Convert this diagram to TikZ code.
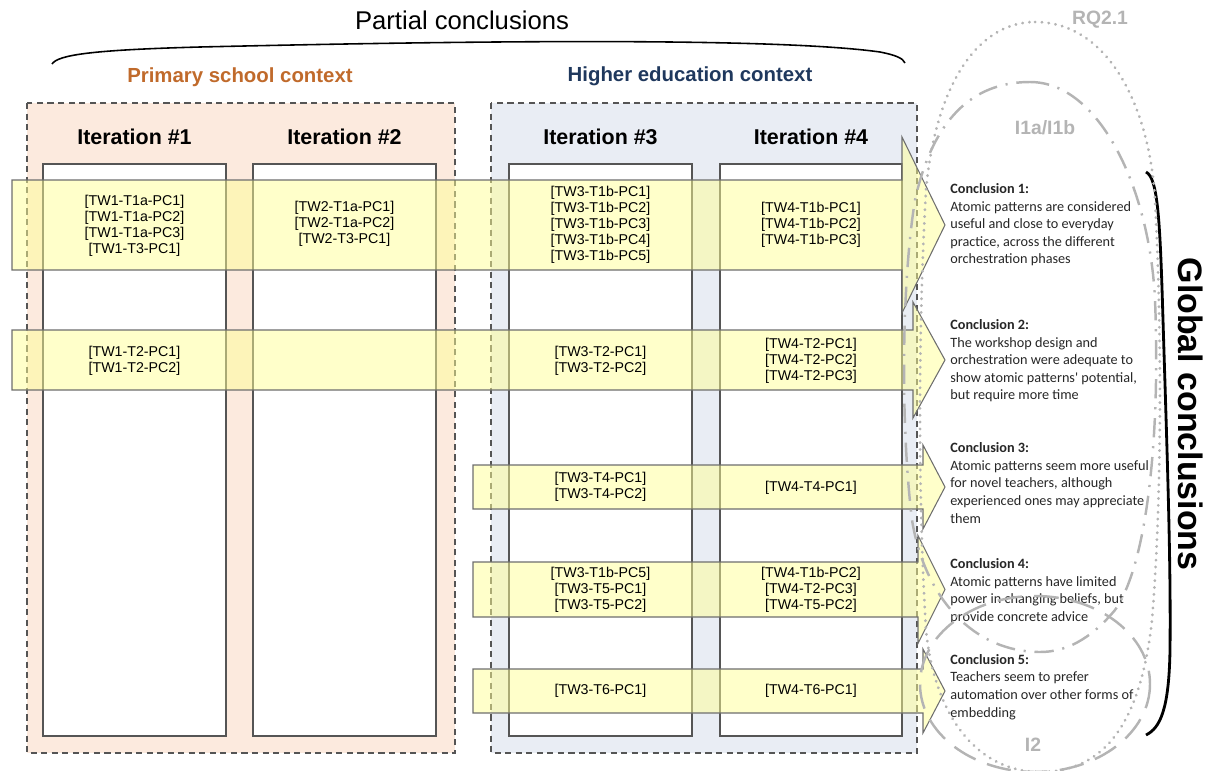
\documentclass[tikz,border=0pt]{standalone}
\usepackage{fontspec}
\setmainfont{Liberation Sans}
\newfontfamily\carlito{Carlito}
\usetikzlibrary{positioning}

\definecolor{primfill}{RGB}{252,234,222}
\definecolor{highfill}{RGB}{233,237,244}
\definecolor{primtext}{RGB}{192,106,43}
\definecolor{hightext}{RGB}{31,56,93}
\definecolor{arrowfill}{RGB}{255,255,150}
\definecolor{linegray}{RGB}{85,85,85}
\definecolor{ringgray}{RGB}{180,180,180}

\tikzset{
  ctxbox/.style={draw=linegray, dash pattern=on 3.5pt off 2.5pt, line width=0.6pt},
  colbox/.style={draw=linegray, fill=white, line width=0.6pt},
  pcarrow/.style={draw=linegray!85, fill=arrowfill, fill opacity=0.5, line width=0.6pt},
  pclist/.style={align=center, inner sep=0pt, font=\fontsize{8.1}{9.1}\selectfont},
  itlabel/.style={font=\fontsize{12.2}{14}\selectfont\bfseries},
  ctxlabel/.style={font=\fontsize{11.6}{14}\selectfont\bfseries},
  concl/.style={anchor=west, align=left, inner sep=0pt, text=black!85, font=\carlito\fontsize{8.1}{10}\selectfont},
  ringlabel/.style={text=ringgray, font=\fontsize{11}{13}\selectfont\bfseries},
}

\begin{document}
\begin{tikzpicture}[x=0.02cm, y=-0.02cm]
\useasboundingbox (0,0) rectangle (1211,771);

% heading and the brace under it
\node[font=\fontsize{14.6}{17}\selectfont] (partial) at (462,20) {Partial conclusions};
\draw[line width=0.9pt] (52,64) .. controls (58,55) and (90,50) .. (200,47)
  .. controls (500,40) and (780,38) .. (880,52) .. controls (895,55) and (903,58) .. (905,63);

% the two contexts
\node[ctxlabel, text=primtext] (primary) at (240,77) {Primary school context};
\node[ctxlabel, text=hightext] (higher) at (690,76) {Higher education context};
\draw[ctxbox, fill=primfill] (27,103) rectangle (455,753);
\draw[ctxbox, fill=highfill] (491,103) rectangle (917,753);

% one column per iteration
\foreach \n/\xa/\xb in {1/43/226, 2/253/436, 3/509/692, 4/720/902} {
  \draw[colbox] (\xa,164) rectangle (\xb,736);
  \node[itlabel] (it\n) at ({(\xa+\xb)/2},137) {Iteration \#\n};
}

% partial conclusions flowing into the global ones
\foreach \yc/\hb/\hh/\xl/\xh in {225/45/88/12/902, 360/30/58/12/913, 487/22/42/473/923,
    589.5/27.5/54/473/918, 691/22/42/473/923} {
  \draw[pcarrow] (\xl,\yc-\hb) -- (\xh,\yc-\hb) -- (\xh,\yc-\hh) -- (945,\yc)
    -- (\xh,\yc+\hh) -- (\xh,\yc+\hb) -- (\xl,\yc+\hb) -- cycle;
}

% row 1
\node[pclist] (tw1a) at (134.5,226) {{[TW1-T1a-PC1]}\\{[TW1-T1a-PC2]}\\{[TW1-T1a-PC3]}\\{[TW1-T3-PC1]}};
\node[pclist] (tw2a) at (344.5,224) {{[TW2-T1a-PC1]}\\{[TW2-T1a-PC2]}\\{[TW2-T3-PC1]}};
\node[pclist] (tw3a) at (600.5,225) {{[TW3-T1b-PC1]}\\{[TW3-T1b-PC2]}\\{[TW3-T1b-PC3]}\\{[TW3-T1b-PC4]}\\{[TW3-T1b-PC5]}};
\node[pclist] (tw4a) at (811,225) {{[TW4-T1b-PC1]}\\{[TW4-T1b-PC2]}\\{[TW4-T1b-PC3]}};
% row 2
\node[pclist] (tw1b) at (134.5,361) {{[TW1-T2-PC1]}\\{[TW1-T2-PC2]}};
\node[pclist] (tw3b) at (600.5,361) {{[TW3-T2-PC1]}\\{[TW3-T2-PC2]}};
\node[pclist] (tw4b) at (811,361) {{[TW4-T2-PC1]}\\{[TW4-T2-PC2]}\\{[TW4-T2-PC3]}};
% row 3
\node[pclist] (tw3c) at (600.5,487) {{[TW3-T4-PC1]}\\{[TW3-T4-PC2]}};
\node[pclist] (tw4c) at (811,488) {{[TW4-T4-PC1]}};
% row 4
\node[pclist] (tw3d) at (600.5,590) {{[TW3-T1b-PC5]}\\{[TW3-T5-PC1]}\\{[TW3-T5-PC2]}};
\node[pclist] (tw4d) at (811,590) {{[TW4-T1b-PC2]}\\{[TW4-T2-PC3]}\\{[TW4-T5-PC2]}};
% row 5
\node[pclist] (tw3e) at (600.5,691) {{[TW3-T6-PC1]}};
\node[pclist] (tw4e) at (811,691) {{[TW4-T6-PC1]}};

% global conclusions
\node[concl] (gc1) at (950,225) {\textbf{Conclusion 1:}\\Atomic patterns are considered\\useful and close to everyday\\practice, across the different\\orchestration phases};
\node[concl] (gc2) at (950,361) {\textbf{Conclusion 2:}\\The workshop design and\\orchestration were adequate to\\show atomic patterns' potential,\\but require more time};
\node[concl] (gc3) at (950,483) {\textbf{Conclusion 3:}\\Atomic patterns seem more useful\\for novel teachers, although\\experienced ones may appreciate\\them};
\node[concl] (gc4) at (950,591) {\textbf{Conclusion 4:}\\Atomic patterns have limited\\power in changing beliefs, but\\provide concrete advice};
\node[concl] (gc5) at (950,687) {\textbf{Conclusion 5:}\\Teachers seem to prefer\\automation over other forms of\\embedding};

\draw[line width=1.6pt] (1146,172) .. controls (1158,178) and (1160,220) .. (1163,320)
  .. controls (1167,450) and (1171,560) .. (1170,650) .. controls (1169,710) and (1160,728) .. (1146,735);
\node[rotate=-90, font=\fontsize{19.3}{22}\selectfont\bfseries] (global) at (1191,414) {Global conclusions};

% research question and issues
\draw[ringgray, line width=1.7pt, line cap=round, dash pattern=on 0.1pt off 3.8pt]
  (1035,22) .. controls (1110,22) and (1150,110) .. (1155,200)
  .. controls (1162,330) and (1162,500) .. (1152,620)
  .. controls (1140,730) and (1100,772) .. (1040,772)
  .. controls (980,772) and (935,720) .. (926,630)
  .. controls (918,500) and (918,330) .. (926,190)
  .. controls (935,90) and (975,22) .. (1035,22);
\draw[ringgray, line width=1.4pt, dash pattern=on 11pt off 5pt on 1.2pt off 5pt]
  (1030,82) .. controls (1100,82) and (1150,190) .. (1155,300)
  .. controls (1160,420) and (1150,560) .. (1115,610)
  .. controls (1090,640) and (1065,652) .. (1040,652)
  .. controls (975,652) and (925,600) .. (912,520)
  .. controls (900,420) and (902,280) .. (915,200)
  .. controls (935,110) and (980,82) .. (1030,82);
\draw[ringgray, line width=1.4pt, dash pattern=on 14pt off 7pt] (1035,684) ellipse [x radius=115, y radius=88];
\node[ringlabel] (rq) at (1100,20) {RQ2.1};
\node[ringlabel] (iss1) at (1045,128) {I1a/I1b};
\node[ringlabel] (iss2) at (1033,745) {I2};
\end{tikzpicture}
\end{document}
